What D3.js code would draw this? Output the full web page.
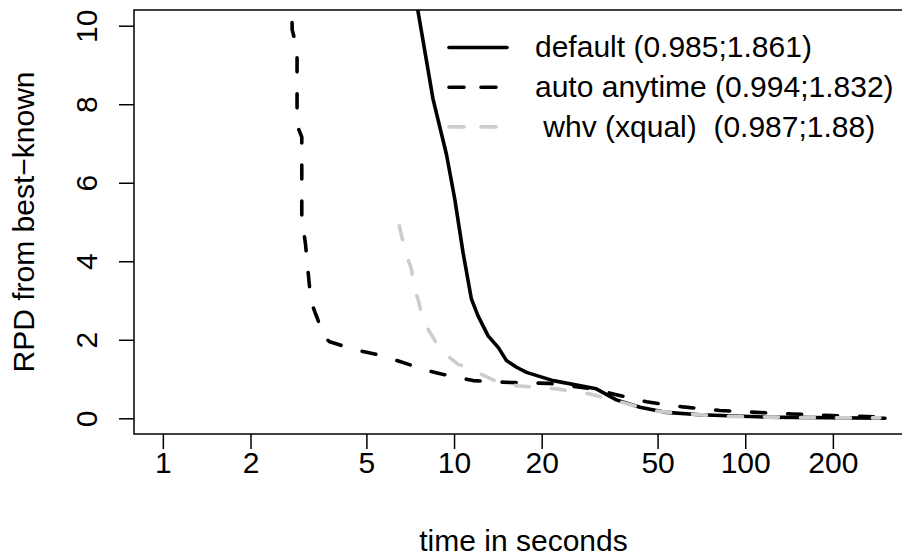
<!DOCTYPE html>
<html><head><meta charset="utf-8">
<script src="https://cdn.jsdelivr.net/npm/d3@7"></script>
<style>body{margin:0;background:#fff} text{font-family:"Liberation Sans",Arial,Helvetica,sans-serif;fill:#000}</style>
</head><body><svg id="c" width="902" height="560"></svg>
<script>
// ---- data ----
const xTicks = [1, 2, 5, 10, 20, 50, 100, 200];
const yTicks = [0, 2, 4, 6, 8, 10];
const seriesLabels = ["default (0.985;1.861)", "auto anytime (0.994;1.832)", " whv (xqual)  (0.987;1.88)"];

const defaultTime = [7.3, 7.5, 8.47, 9.42, 10.06, 10.74, 11.47, 12.09, 13.09, 14.2, 15.14, 16.4, 17.74, 21.88, 30.8, 36.1, 43.5, 53.7, 69.8, 118, 302];
const defaultRPD  = [11, 10.42, 8.13, 6.72, 5.58, 4.22, 3.04, 2.61, 2.10, 1.80, 1.47, 1.30, 1.17, 0.96, 0.75, 0.47, 0.28, 0.15, 0.09, 0.03, 0.0];

const anytimeTime = [2.77, 2.78, 2.89, 2.89, 2.90, 3.00, 3.00, 3.09, 3.19, 3.27, 3.35, 3.40, 3.55, 3.74, 4.38, 4.87, 5.70, 7.14, 7.83, 9.05, 11.62, 15.7, 21.3, 30.0, 36.1, 45.8, 61.2, 81.8, 109, 146, 198, 302];
const anytimeRPD  = [11, 9.9, 9.4, 7.75, 7.44, 7.16, 5.12, 4.43, 3.34, 2.86, 2.65, 2.53, 2.10, 1.95, 1.79, 1.70, 1.59, 1.35, 1.24, 1.13, 0.96, 0.91, 0.89, 0.75, 0.60, 0.42, 0.29, 0.20, 0.15, 0.11, 0.07, 0.03];

const whvTime = [6.49, 6.6, 6.95, 7.14, 7.33, 7.52, 7.83, 8.14, 8.81, 9.17, 10.3, 11.03, 12.75, 13.8, 16.4, 22.5, 29.3, 37.1, 48.3, 62.9, 86.3, 118, 217, 290];
const whvRPD  = [4.90, 4.65, 4.05, 3.80, 3.25, 3.04, 2.48, 2.27, 1.85, 1.68, 1.38, 1.30, 1.08, 0.96, 0.83, 0.75, 0.62, 0.42, 0.19, 0.11, 0.05, 0.03, 0.01, 0.01];

// ---- layout ----
const L = 134, R = 913, T = 10, B = 434;
const FS = 30;
const svg = d3.select("#c");

const x = d3.scaleLog().domain([Math.pow(10, -0.0991), Math.pow(10, 2.5762)]).range([L, R]);
const y = d3.scaleLinear().domain([-0.4, 10.4]).range([B, T]);

svg.append("defs").append("clipPath").attr("id", "clip")
  .append("rect").attr("x", L).attr("y", T).attr("width", R - L).attr("height", B - T);

const series = [
  { t: defaultTime, v: defaultRPD, color: "#000", dash: null },
  { t: anytimeTime, v: anytimeRPD, color: "#000", dash: "14,22" },
  { t: whvTime, v: whvRPD, color: "#cccccc", dash: "14,22" }
];

const line = d3.line().x(d => x(d[0])).y(d => y(d[1]));
const g = svg.append("g").attr("clip-path", "url(#clip)");
series.forEach(s => {
  g.append("path")
    .attr("d", line(s.t.map((t, i) => [t, s.v[i]])))
    .attr("fill", "none").attr("stroke", s.color).attr("stroke-width", 3.6)
    .attr("stroke-linecap", "round").attr("stroke-linejoin", "round")
    .attr("stroke-dasharray", s.dash);
});

// box
svg.append("rect").attr("x", L).attr("y", T).attr("width", R - L).attr("height", B - T)
  .attr("fill", "none").attr("stroke", "#000").attr("stroke-width", 1.5);

// x axis
const xa = svg.append("g").attr("transform", `translate(0,${B})`)
  .call(d3.axisBottom(x).tickValues(xTicks).tickFormat(d3.format("d")).tickSize(15).tickSizeOuter(0));
xa.select(".domain").remove();
xa.selectAll(".tick line").attr("stroke", "#000").attr("stroke-width", 1.5);
xa.selectAll(".tick text").attr("y", 39).attr("dy", null).attr("font-size", FS)
  .attr("font-family", "Liberation Sans, Arial, sans-serif");

// y axis
const ya = svg.append("g").attr("transform", `translate(${L},0)`)
  .call(d3.axisLeft(y).tickValues(yTicks).tickFormat(d3.format("d")).tickSize(15).tickSizeOuter(0));
ya.select(".domain").remove();
ya.selectAll(".tick line").attr("stroke", "#000").attr("stroke-width", 1.5);
ya.selectAll(".tick text").attr("x", 0).attr("y", -37).attr("dy", null)
  .attr("text-anchor", "middle").attr("transform", "rotate(-90)").attr("font-size", FS)
  .attr("font-family", "Liberation Sans, Arial, sans-serif");

// axis titles
svg.append("text").attr("x", (L + R) / 2).attr("y", 551).attr("text-anchor", "middle")
  .attr("font-size", FS).text("time in seconds");
svg.append("text").attr("transform", `translate(33.5,${(T + B) / 2}) rotate(-90)`)
  .attr("text-anchor", "middle").attr("font-size", FS).text("RPD from best\u2212known");

// legend
const lg = svg.append("g");
seriesLabels.forEach((lab, i) => {
  const ry = 47.5 + i * 39.7;
  lg.append("line").attr("x1", 449).attr("x2", 507).attr("y1", ry).attr("y2", ry)
    .attr("stroke", series[i].color).attr("stroke-width", 3.6).attr("stroke-linecap", "round")
    .attr("stroke-dasharray", series[i].dash ? "15,17" : null);
  lg.append("text").attr("x", 535).attr("y", ry).attr("dy", "0.33em")
    .attr("font-size", FS).style("white-space", "pre").attr("xml:space", "preserve").text(lab);
});
</script></body></html>
